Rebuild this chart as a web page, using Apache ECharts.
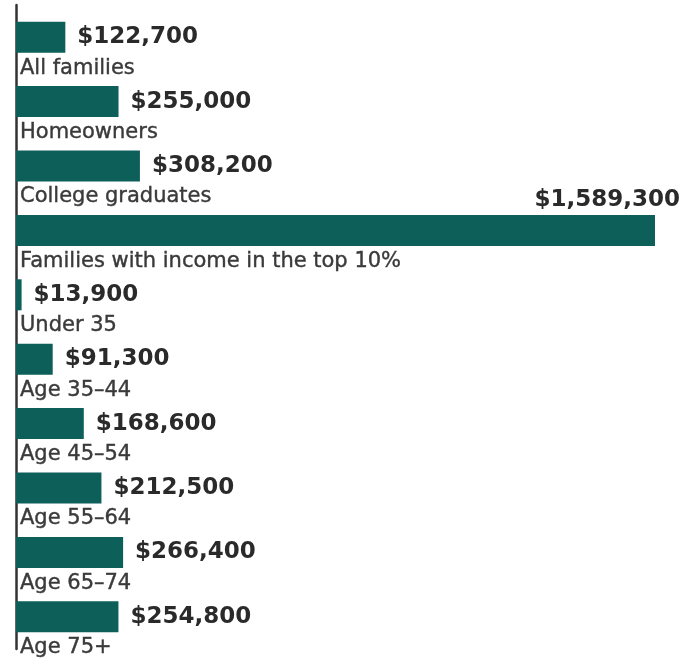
<!DOCTYPE html>
<html>
<head>
<meta charset="utf-8">
<script src="https://cdn.jsdelivr.net/npm/echarts@6/dist/echarts.min.js"></script>
<style>
html,body{margin:0;padding:0;background:#fff;}
#chart{width:681px;height:660px;}
</style>
</head>
<body>
<div id="chart"></div>
<script>
const categories = ["All families", "Homeowners", "College graduates", "Families with income in the top 10%", "Under 35", "Age 35–44", "Age 45–54", "Age 55–64", "Age 65–74", "Age 75+"];
const netWorth = [122700, 255000, 308200, 1589300, 13900, 91300, 168600, 212500, 266400, 254800];
const xMax = 1589300;

const fmt = v => '$' + Number(v).toLocaleString('en-US');
const maxIdx = netWorth.indexOf(Math.max.apply(null, netWorth));

const chart = echarts.init(document.getElementById('chart'), null, {renderer: 'canvas'});
chart.setOption({
  animation: false,
  backgroundColor: '#ffffff',
  grid: {left: 16, right: 26, top: 5, bottom: 11, containLabel: false},
  xAxis: {type: 'value', min: 0, max: xMax, show: false},
  yAxis: {
    type: 'category', inverse: true, data: categories,
    axisLine: {show: true, lineStyle: {color: '#333333', width: 2.5}},
    axisTick: {show: false}, axisLabel: {show: false}, splitLine: {show: false}
  },
  series: [
    {
      type: 'bar', barWidth: 31, z: 2,
      itemStyle: {color: '#0d5f5a'},
      data: netWorth.map((v, i) => i === maxIdx ? {
        value: v,
        label: {position: ['100%', 0], align: 'right', verticalAlign: 'bottom', offset: [25, -3]}
      } : v),
      label: {
        show: true, position: 'right', distance: 12,
        fontFamily: 'DejaVu Sans', fontWeight: 'bold', fontSize: 23, color: '#2a2a2a',
        formatter: p => fmt(p.value)
      }
    },
    {
      type: 'bar', barWidth: 31, barGap: '-100%', z: 1, silent: true,
      itemStyle: {color: 'rgba(0,0,0,0)'},
      data: netWorth,
      label: {
        show: true, position: ['0%', '100%'], align: 'left', verticalAlign: 'top', offset: [4, 5],
        fontFamily: 'DejaVu Sans', fontSize: 21, color: '#3a3a3a',
        textBorderColor: '#3a3a3a', textBorderWidth: 0.4,
        formatter: p => categories[p.dataIndex]
      }
    }
  ]
});
</script>
</body>
</html>
